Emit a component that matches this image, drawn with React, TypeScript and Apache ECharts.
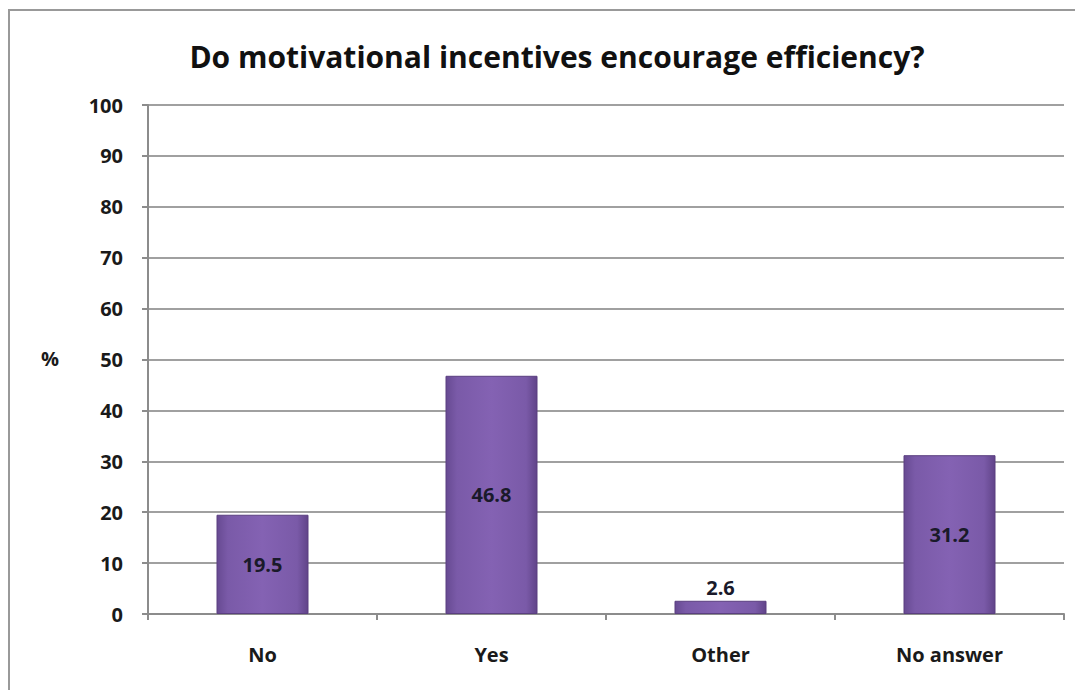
import React, { useEffect, useRef } from "react";
import * as echarts from "echarts";

const categories = ["No", "Yes", "Other", "No answer"];
const values = [19.5, 46.8, 2.6, 31.2];
const labelPositions = ["inside", "inside", "top", "inside"];
const title = "Do motivational incentives encourage efficiency?";

export default function App() {
  const ref = useRef<HTMLDivElement>(null);
  useEffect(() => {
    if (!ref.current) return;
    document.body.style.overflow = "hidden";
    const chart = echarts.init(ref.current, undefined, { renderer: "svg" });
    const font = "'Open Sans', 'Noto Sans', sans-serif";
    chart.setOption({
      animation: false,
      backgroundColor: "#ffffff",
      title: {
        text: title,
        left: 544,
        top: 28,
        textAlign: "center",
        textStyle: { fontFamily: font, fontSize: 30, fontWeight: "bold", color: "#111111" },
      },
      graphic: [
        {
          type: "polyline",
          shape: { points: [[1, 700], [1, 2], [1100, 2]] },
          style: { fill: "none", stroke: "#999999", lineWidth: 2 },
          silent: true,
        },
        {
          type: "text",
          x: 42,
          y: 350,
          style: {
            text: "%",
            fontFamily: font,
            fontSize: 20,
            fontWeight: "bold",
            fill: "#1a1a1a",
            textAlign: "center",
            textVerticalAlign: "middle",
          },
        },
      ],
      grid: { left: 140, top: 97, right: 19, bottom: 76, containLabel: false },
      xAxis: {
        type: "category",
        data: categories,
        axisLine: { lineStyle: { color: "#8c8c8c", width: 2 } },
        axisTick: { show: true, alignWithLabel: false, length: 6, lineStyle: { color: "#8c8c8c", width: 2 } },
        axisLabel: { margin: 30, fontFamily: font, fontSize: 20, fontWeight: "bold", color: "#1a1a1a" },
      },
      yAxis: {
        type: "value",
        min: 0,
        max: 100,
        interval: 10,
        axisLine: { show: true, lineStyle: { color: "#8c8c8c", width: 2 } },
        axisTick: { show: true, length: 6, lineStyle: { color: "#8c8c8c", width: 2 } },
        splitLine: { lineStyle: { color: "#a0a0a0", width: 2 } },
        axisLabel: { margin: 25, fontFamily: font, fontSize: 20, fontWeight: "bold", color: "#1a1a1a" },
      },
      series: [
        {
          type: "bar",
          barWidth: 92,
          data: values.map((v, i) => ({
            value: v,
            label: { position: labelPositions[i] },
          })),
          itemStyle: {
            color: new echarts.graphic.LinearGradient(0, 0, 1, 0, [
              { offset: 0, color: "#674a92" },
              { offset: 0.12, color: "#7a5aa8" },
              { offset: 0.5, color: "#8462b3" },
              { offset: 0.88, color: "#7a5aa8" },
              { offset: 1, color: "#614489" },
            ]),
            borderColor: "#5a3f80",
            borderWidth: 1,
          },
          label: {
            show: true,
            fontFamily: font,
            fontSize: 20,
            fontWeight: "bold",
            color: "#1a1a2a",
            distance: 3,
          },
        },
      ],
    });
    return () => chart.dispose();
  }, []);
  return <div ref={ref} style={{ width: 1075, height: 682 }} />;
}
